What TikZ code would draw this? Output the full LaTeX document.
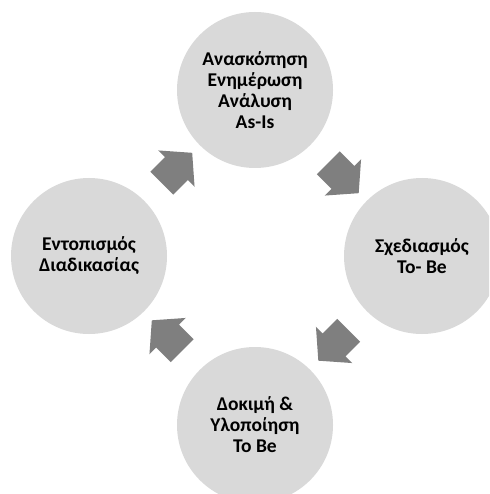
\documentclass[tikz,border=0pt]{standalone}
\usepackage{fontspec}
\setmainfont{Carlito}
\usetikzlibrary{shapes.arrows,calc}
\definecolor{circfill}{HTML}{D9D9D9}
\definecolor{arrfill}{HTML}{7F7F7F}
\begin{document}
\begin{tikzpicture}[x=1pt,y=-1pt,
  stage/.style={circle, fill=circfill, minimum size=156pt, inner sep=0pt,
    align=center, font=\bfseries\fontsize{19.5}{21}\selectfont},
  cyclearrow/.style={single arrow, fill=arrfill, inner xsep=0pt, inner ysep=16pt,
    minimum height=43pt,
    single arrow head extend=9.5pt, single arrow tip angle=98}]
\useasboundingbox (0,0) rectangle (489,494);
\fill[white] (0,0) rectangle (489,494);
\clip (0,0) rectangle (489,494);
\node[stage] (top) at (255,90) {Ανασκόπηση\\Ενημέρωση\\Ανάλυση\\As-Is};
\node[stage] (right) at (422,256) {Σχεδιασμός\\To- Be};
\node[stage] (bottom) at (255,425) {Δοκιμή \&\\Υλοποίηση\\To Be};
\node[stage] (left) at (89,256) {Εντοπισμός\\Διαδικασίας};
\node[cyclearrow, rotate=45] (a1) at ($(left)!0.5!(top)$) {};
\node[cyclearrow, rotate=-45] (a2) at ($(top)!0.5!(right)$) {};
\node[cyclearrow, rotate=-135] (a3) at ($(right)!0.5!(bottom)$) {};
\node[cyclearrow, rotate=135] (a4) at ($(bottom)!0.5!(left)$) {};
\end{tikzpicture}
\end{document}
